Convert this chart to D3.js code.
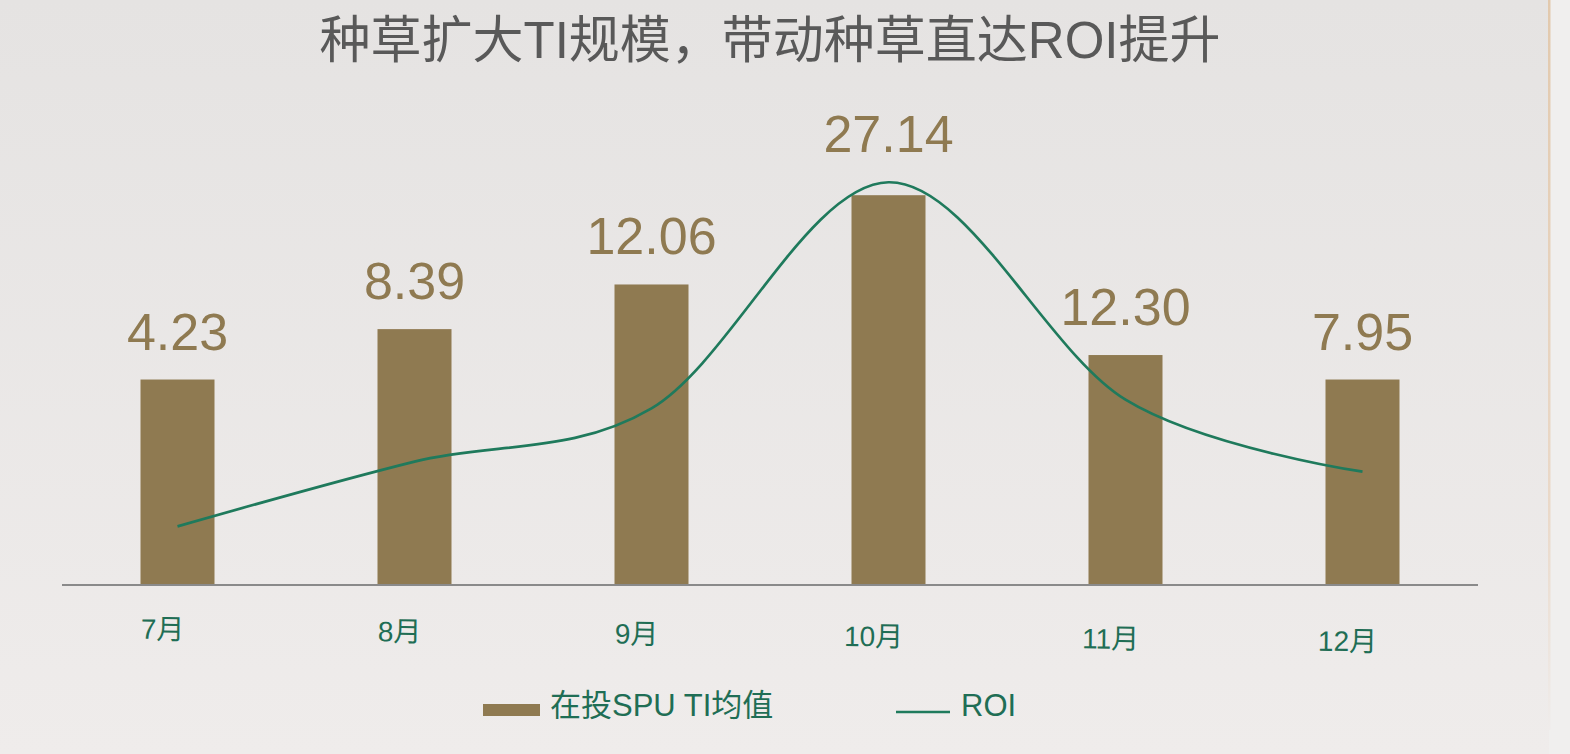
<!DOCTYPE html>
<html>
<head>
<meta charset="utf-8">
<script src="https://cdn.jsdelivr.net/npm/d3@7"></script>
<style>
  body { margin: 0; background: #f0efee; }
  text { font-family: "Liberation Sans", Arial, "Noto Sans CJK SC", sans-serif; }
</style>
</head>
<body>
<div id="vizcont"></div>
<script>
// data
var months = ["7月", "8月", "9月", "10月", "11月", "12月"];
var tiLabels = ["4.23", "8.39", "12.06", "27.14", "12.30", "7.95"];
var tiBarLen = [14.2, 17.7, 20.8, 27.0, 15.9, 14.2];   // bar length as drawn
var roiValues = [0.40, 0.85, 1.22, 2.79, 1.28, 0.78];   // no axis shown, relative units
var legendNames = ["在投SPU TI均值", "ROI"];

var width = 1570, height = 754;
var barColor = "#8f7a51", lineColor = "#1f7a5c", tickColor = "#1f6e55";

var svg = d3.select("#vizcont")
    .append("svg")
    .attr("width", width)
    .attr("height", height);

// background
var defs = svg.append("defs");
var grad = defs.append("linearGradient")
    .attr("id", "bg").attr("x1", 0).attr("y1", 0).attr("x2", 0).attr("y2", 1);
grad.append("stop").attr("offset", "0%").attr("stop-color", "#e5e3e2");
grad.append("stop").attr("offset", "100%").attr("stop-color", "#efeceb");
svg.append("rect").attr("width", width).attr("height", height).attr("fill", "#f0efee");
svg.append("rect").attr("width", 1549).attr("height", height).attr("fill", "url(#bg)");
var edge = defs.append("linearGradient")
    .attr("id", "edge").attr("x1", 0).attr("y1", 0).attr("x2", 0).attr("y2", 1);
edge.append("stop").attr("offset", "0%").attr("stop-color", "#e2c9ad");
edge.append("stop").attr("offset", "70%").attr("stop-color", "#ead9c9");
edge.append("stop").attr("offset", "100%").attr("stop-color", "#efeceb");
svg.append("rect").attr("x", 1548).attr("y", 0).attr("width", 2.5).attr("height", 730)
    .attr("fill", "url(#edge)");

// title
svg.append("text")
    .attr("x", 770).attr("y", 58)
    .attr("text-anchor", "middle")
    .style("font-size", "51px")
    .style("fill", "#595959")
    .text("种草扩大TI规模，带动种草直达ROI提升");

// scales
var x = d3.scalePoint().domain(months).range([177.5, 1362.5]);
var y = d3.scaleLinear().domain([0, 30]).range([584, 152]);
var y2 = d3.scaleLinear().domain([0, 3]).range([584, 152]);
var barW = 74;

// bars
svg.selectAll("rect.bar")
    .data(months)
    .enter().append("rect")
    .attr("class", "bar")
    .attr("x", function(d) { return x(d) - barW / 2; })
    .attr("y", function(d, i) { return y(tiBarLen[i]); })
    .attr("width", barW)
    .attr("height", function(d, i) { return y(0) - y(tiBarLen[i]); })
    .style("fill", barColor);

// baseline
svg.append("line")
    .attr("x1", 62).attr("x2", 1478)
    .attr("y1", y(0) + 1).attr("y2", y(0) + 1)
    .attr("stroke", "#8a8a8a")
    .style("stroke-width", "2px");

// ROI line
var line = d3.line()
    .x(function(d, i) { return x(months[i]); })
    .y(function(d) { return y2(d); })
    .curve(d3.curveCatmullRom.alpha(0));
svg.append("path")
    .datum(roiValues)
    .attr("d", line)
    .attr("fill", "none")
    .attr("stroke", lineColor)
    .style("stroke-width", "2.7px");

// value labels, kept clear of bar and line
svg.selectAll("text.val")
    .data(tiLabels)
    .enter().append("text")
    .attr("class", "val")
    .attr("x", function(d, i) { return x(months[i]); })
    .attr("y", function(d, i) { return Math.min(y(tiBarLen[i]), y2(roiValues[i])) - 30; })
    .attr("text-anchor", "middle")
    .style("font-size", "52px")
    .style("fill", barColor)
    .text(function(d) { return d; });

// month labels (slightly tilted as in the source)
var ticks = svg.append("g")
    .attr("transform", "rotate(0.58," + (x(months[0]) - 15) + ",639)");
ticks.selectAll("text")
    .data(months)
    .enter().append("text")
    .attr("x", function(d) { return x(d) - 15; })
    .attr("y", 639)
    .attr("text-anchor", "middle")
    .style("font-size", "28px")
    .style("fill", tickColor)
    .text(function(d) { return d; });

// legend
var lg = svg.append("g");
lg.append("rect")
    .attr("x", 483).attr("y", 704).attr("width", 57).attr("height", 12)
    .style("fill", barColor);
lg.append("text")
    .attr("x", 550).attr("y", 716)
    .style("font-size", "31px")
    .style("fill", tickColor)
    .text(legendNames[0]);
lg.append("line")
    .attr("x1", 896).attr("x2", 950).attr("y1", 712).attr("y2", 712)
    .attr("stroke", lineColor)
    .style("stroke-width", "2.5px");
lg.append("text")
    .attr("x", 961).attr("y", 716)
    .style("font-size", "31px")
    .style("fill", tickColor)
    .text(legendNames[1]);
</script>
</body>
</html>
